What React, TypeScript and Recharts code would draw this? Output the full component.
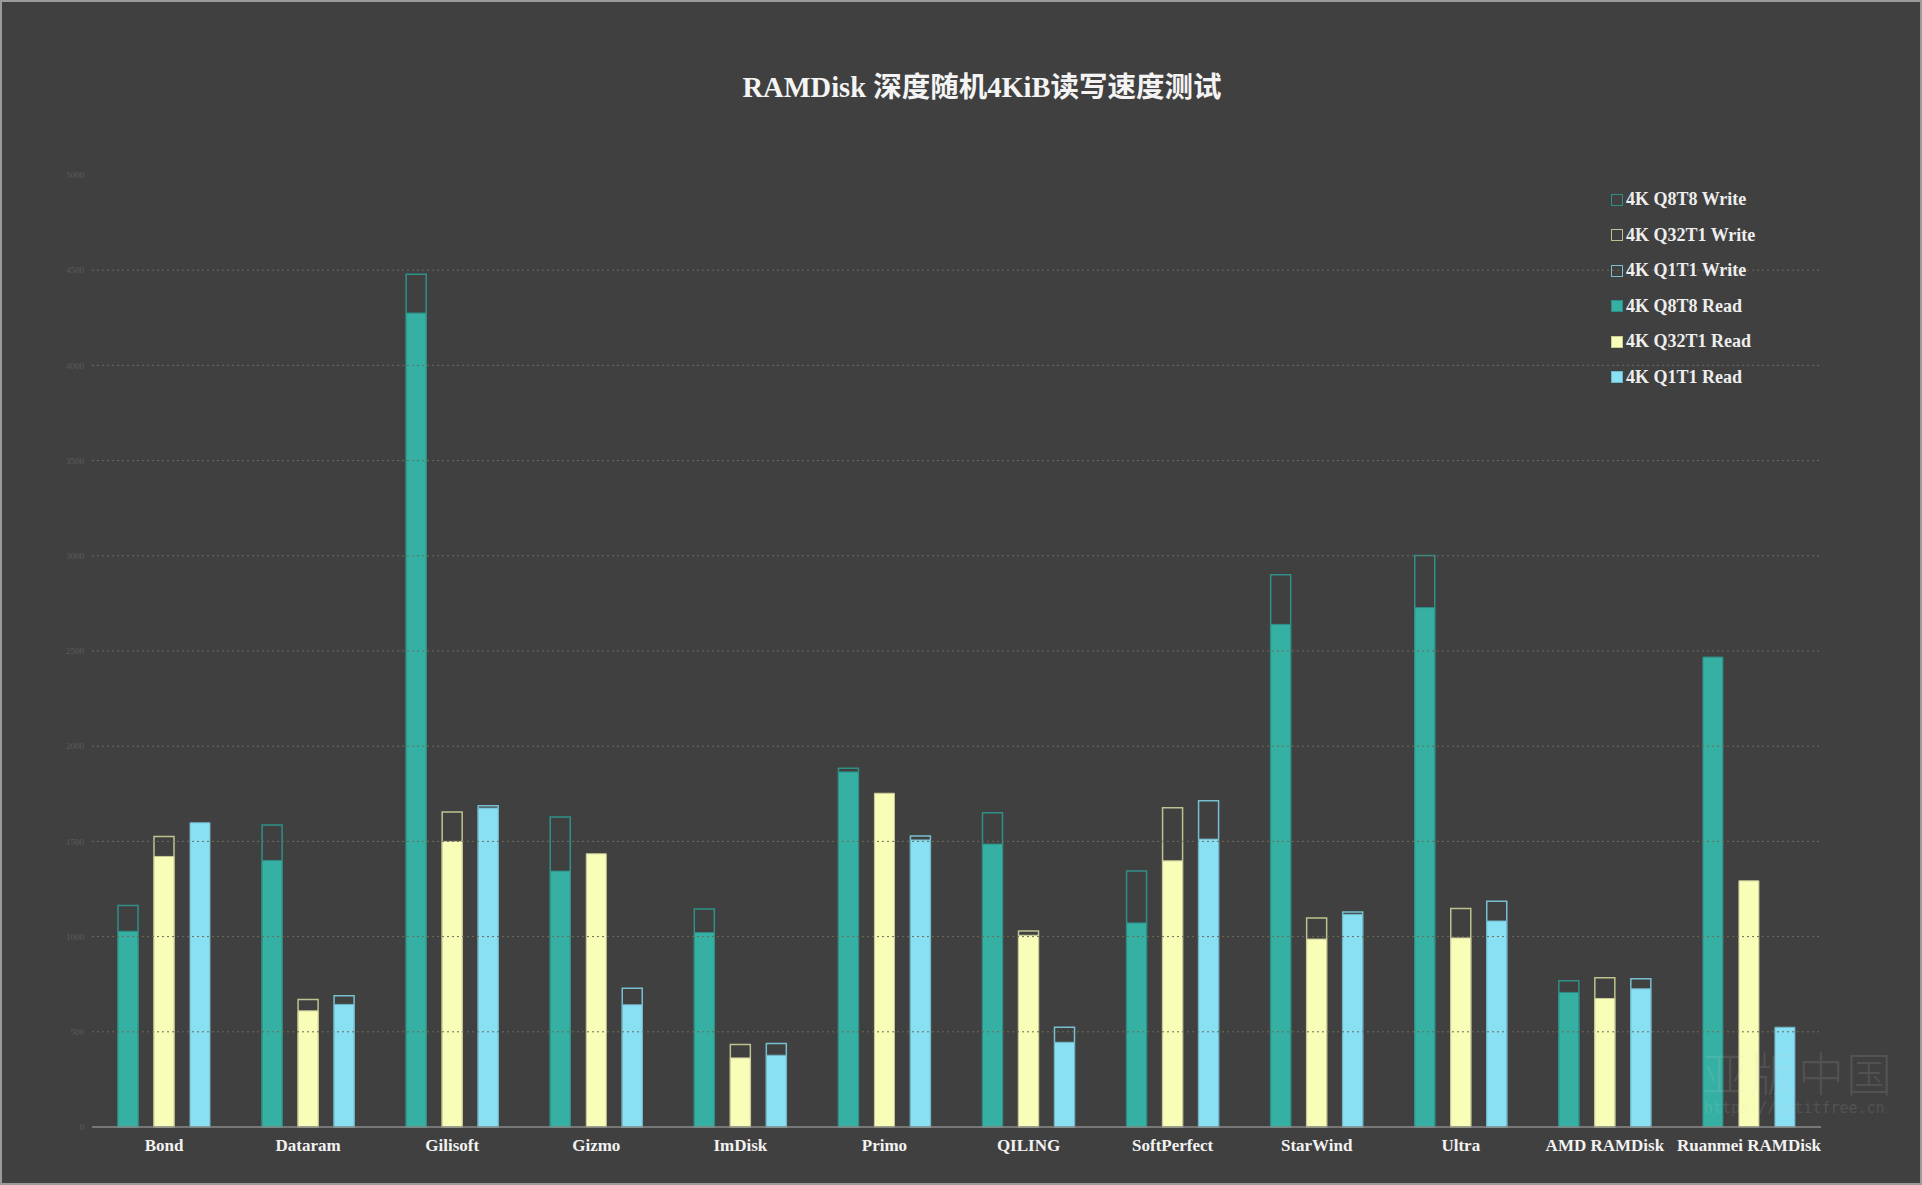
import { Bar, BarChart, ReferenceLine, XAxis, YAxis } from 'recharts';

const CATEGORIES = [
  'Bond',
  'Dataram',
  'Gilisoft',
  'Gizmo',
  'ImDisk',
  'Primo',
  'QILING',
  'SoftPerfect',
  'StarWind',
  'Ultra',
  'AMD RAMDisk',
  'Ruanmei RAMDisk',
];

// MB/s; null = no write bar visible
const Q8T8_READ = [1028, 1400, 4275, 1344, 1021, 1865, 1486, 1072, 2640, 2728, 707, 2468];
const Q8T8_WRITE = [1163, 1586, 4479, 1628, 1145, 1884, 1650, 1345, 2901, 3001, 768, null];
const Q32T1_READ = [1421, 610, 1500, 1435, 363, 1753, 1007, 1398, 987, 993, 675, 1293];
const Q32T1_WRITE = [1526, 670, 1654, null, 433, null, 1029, 1677, 1098, 1147, 784, null];
const Q1T1_READ = [1598, 644, 1675, 642, 377, 1508, 445, 1512, 1117, 1082, 726, 524];
const Q1T1_WRITE = [null, 689, 1687, 729, 438, 1529, 524, 1714, 1129, 1186, 779, null];

const LEFT_TICKS = [0, 500, 1000, 1500, 2000, 2500, 3000, 3500, 4000, 4500, 5000];
const RIGHT_TICKS = [0, 1000, 2000, 3000, 4000, 5000, 6000];
const GRID_VALUES = [500, 1000, 1500, 2000, 2500, 3000, 3500, 4000, 4500];

const data = CATEGORIES.map((name, i) => ({
  name,
  q8w: Q8T8_WRITE[i],
  q32w: Q32T1_WRITE[i],
  q1w: Q1T1_WRITE[i],
  q8r: Q8T8_READ[i],
  q32r: Q32T1_READ[i],
  q1r: Q1T1_READ[i],
}));

const FONT = "'Liberation Serif', 'Noto Sans CJK SC', serif";

const SERIES = [
  { key: 'q8w', name: '4K Q8T8 Write', fill: 'none', stroke: '#2f9088', write: true },
  { key: 'q32w', name: '4K Q32T1 Write', fill: 'none', stroke: '#bfc28f', write: true },
  { key: 'q1w', name: '4K Q1T1 Write', fill: 'none', stroke: '#78bfcf', write: true },
  { key: 'q8r', name: '4K Q8T8 Read', fill: '#36b0a3', stroke: '#2e8d84', write: false },
  { key: 'q32r', name: '4K Q32T1 Read', fill: '#f8fdb8', stroke: '#c8ca98', write: false },
  { key: 'q1r', name: '4K Q1T1 Read', fill: '#8ae0f3', stroke: '#6fb4c4', write: false },
];

export default function App() {
  return (
    <div
      style={{
        position: 'relative',
        width: 1922,
        height: 1185,
        background: '#404040',
        boxSizing: 'border-box',
        border: '2px solid #9a9a9a',
        fontFamily: FONT,
        overflow: 'hidden',
      }}
    >
      <style>{'body{margin:0}'}</style>
      <div
        style={{
          position: 'absolute',
          left: 980,
          top: 70,
          transform: 'translateX(-50%)',
          whiteSpace: 'nowrap',
          color: '#f4f4f4',
          fontSize: 28.5,
          lineHeight: '32px',
          fontWeight: 'bold',
        }}
      >
        RAMDisk 深度随机4KiB读写速度测试
      </div>

      <div style={{ position: 'absolute', left: -2, top: -2 }}>
        <BarChart
          width={1922}
          height={1185}
          data={data}
          margin={{ top: 175, right: 41, bottom: 18, left: 0 }}
          barSize={20}
          barGap={16}
        >
          <XAxis
            xAxisId='r'
            dataKey='name'
            tickLine={false}
            tickSize={0}
            tickMargin={12}
            height={40}
            interval={0}
            axisLine={{ stroke: '#8a8a8a', strokeWidth: 1.5 }}
            tick={{ fill: '#f2f2f2', fontSize: 17, fontWeight: 'bold', fontFamily: FONT }}
          />
          <XAxis xAxisId='w' dataKey='name' hide />
          <YAxis
            yAxisId='left'
            width={92}
            domain={[0, 5000]}
            ticks={LEFT_TICKS}
            interval={0}
            axisLine={false}
            tickLine={false}
            tickSize={0}
            tickMargin={8}
            tick={{ fill: '#5c5c5c', fontSize: 9, fontFamily: FONT }}
          />
          <YAxis
            yAxisId='right'
            orientation='right'
            width={60}
            domain={[0, 6000]}
            ticks={RIGHT_TICKS}
            interval={0}
            axisLine={false}
            tickLine={false}
            tickSize={0}
            tickMargin={8}
            tick={{ fill: '#5c5c5c', fontSize: 9, fontFamily: FONT, textAnchor: 'start' }}
          />
          {GRID_VALUES.map((v) => (
            <ReferenceLine
              key={v}
              y={v}
              xAxisId='r'
              yAxisId='left'
              stroke='#6c6c5c'
              strokeDasharray='2 3'
            />
          ))}
          {SERIES.filter((s) => s.write).map((s) => (
            <Bar
              key={s.key}
              dataKey={s.key}
              name={s.name}
              xAxisId='w'
              yAxisId='left'
              fill='none'
              stroke={s.stroke}
              strokeWidth={1.5}
              isAnimationActive={false}
            />
          ))}
          {SERIES.filter((s) => !s.write).map((s) => (
            <Bar
              key={s.key}
              dataKey={s.key}
              name={s.name}
              xAxisId='r'
              yAxisId='left'
              fill={s.fill}
              stroke={s.stroke}
              strokeWidth={1}
              isAnimationActive={false}
            />
          ))}
        </BarChart>
      </div>

      <div style={{ position: 'absolute', left: 1609, top: 180 }}>
        {SERIES.map((s) => (
          <div
            key={s.key}
            style={{ display: 'flex', alignItems: 'center', height: 35.5 }}
          >
            <span
              style={{
                display: 'inline-block',
                width: 12,
                height: 12,
                boxSizing: 'border-box',
                marginRight: 3,
                background: s.write ? 'transparent' : s.fill,
                border: `1.5px solid ${s.stroke}`,
              }}
            />
            <span style={{ color: '#eeeeee', fontSize: 18, fontWeight: 'bold' }}>
              {s.name}
            </span>
          </div>
        ))}
      </div>

      <div
        style={{
          position: 'absolute',
          left: 1700,
          top: 1036,
          color: 'rgba(210,210,210,0.13)',
          fontSize: 46,
          fontFamily: "'Noto Sans CJK SC', sans-serif",
          fontWeight: 300,
          letterSpacing: 2,
          whiteSpace: 'nowrap',
        }}
      >
        亚版中国
      </div>
      <div
        style={{
          position: 'absolute',
          left: 1702,
          top: 1097,
          color: 'rgba(210,210,210,0.15)',
          fontSize: 15,
          lineHeight: '18px',
          fontFamily: "'DejaVu Sans Mono', monospace",
          whiteSpace: 'nowrap',
        }}
      >
        https://getitfree.cn
      </div>
    </div>
  );
}
